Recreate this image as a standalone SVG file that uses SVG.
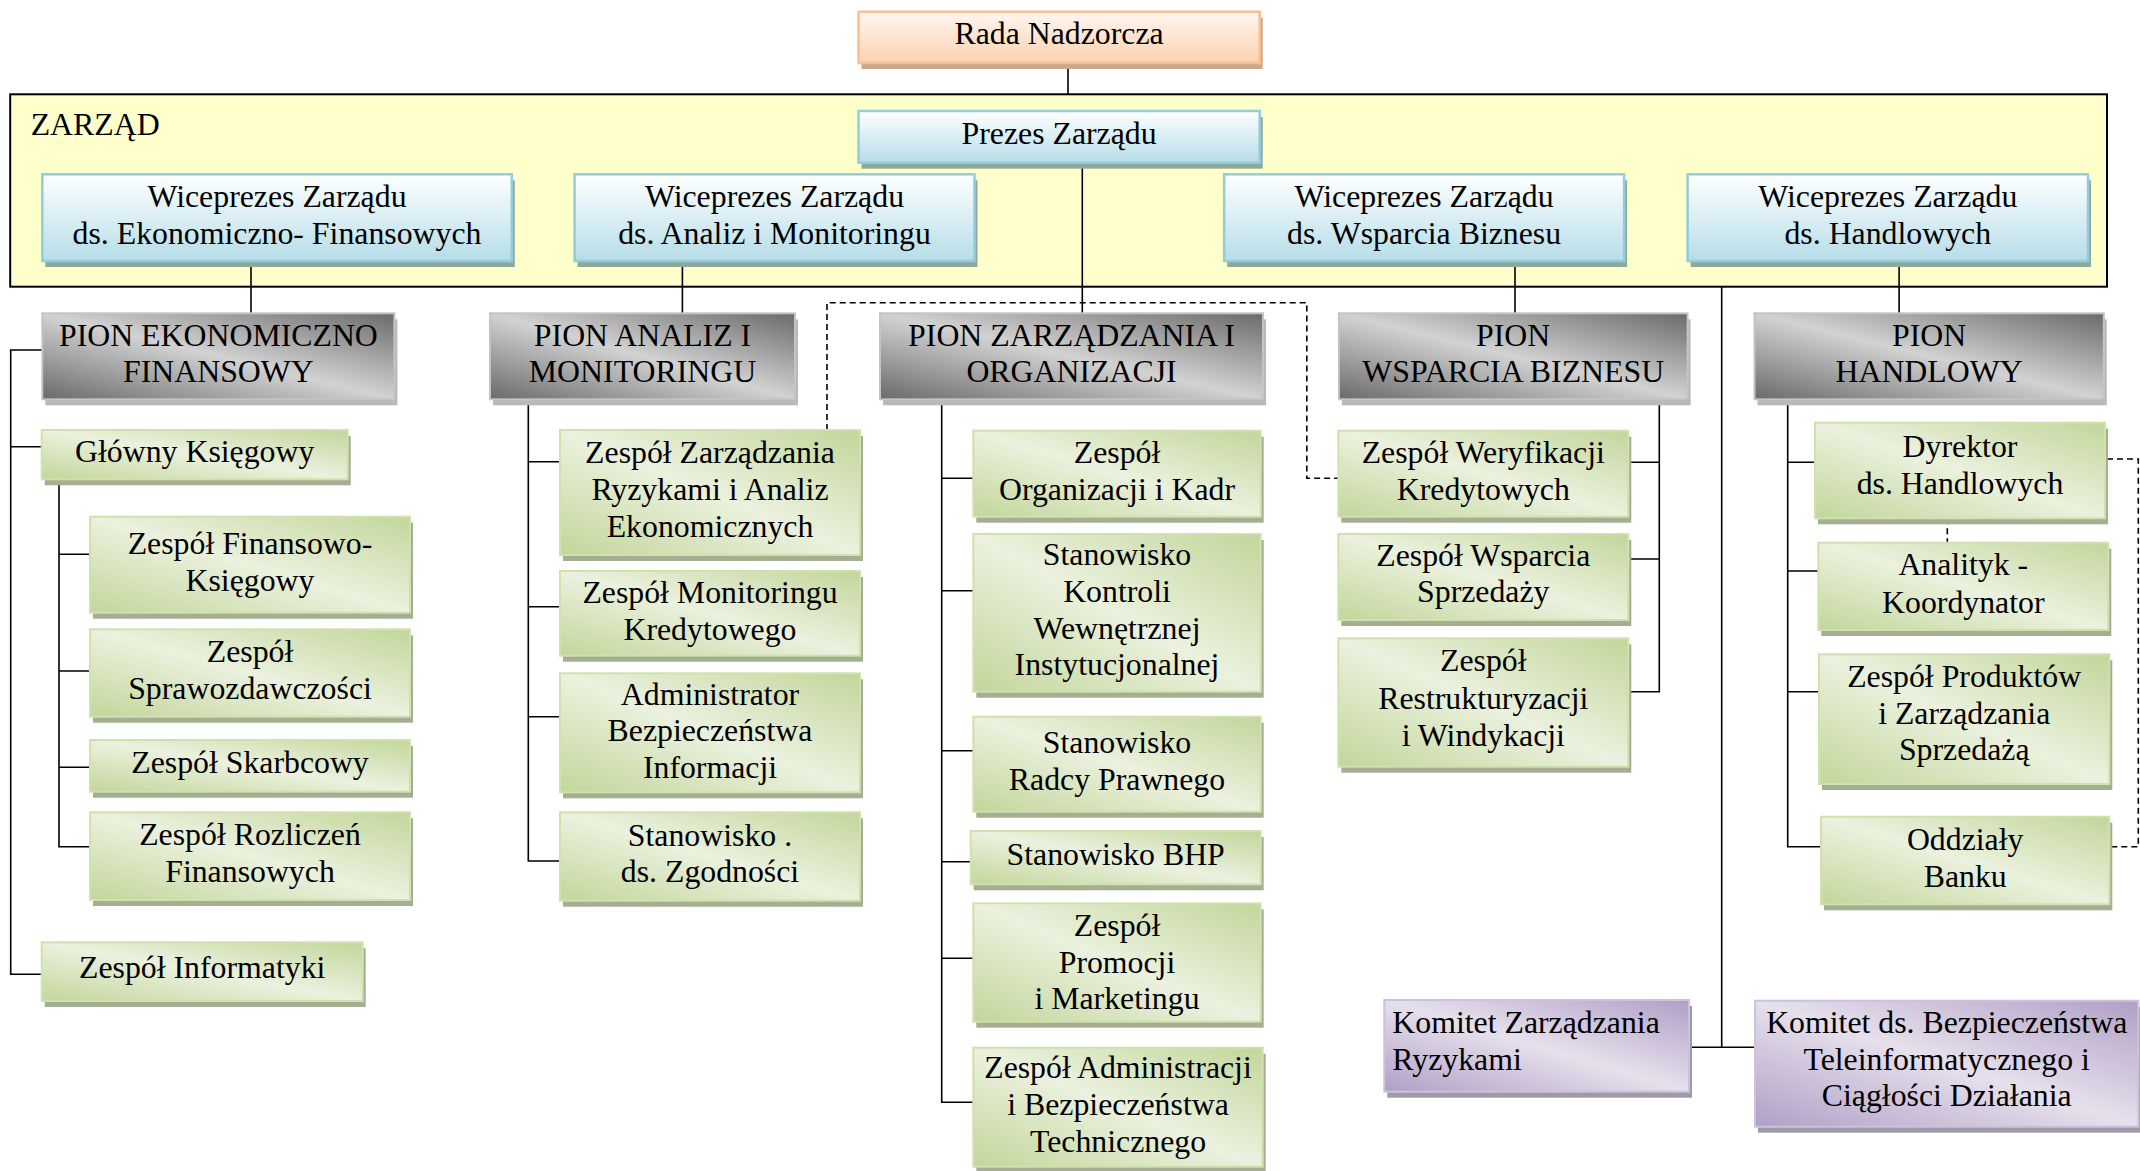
<svg xmlns="http://www.w3.org/2000/svg" width="2140" height="1171" viewBox="0 0 2140 1171">
<defs>
<linearGradient id="gGreen" x1="1" y1="0" x2="0" y2="1">
<stop offset="0" stop-color="#c2d69a"/><stop offset="0.5" stop-color="#ebf1de"/><stop offset="1" stop-color="#c2d69a"/>
</linearGradient>
<linearGradient id="gGrey" x1="1" y1="0" x2="0" y2="1">
<stop offset="0" stop-color="#6a6a6a"/><stop offset="0.5" stop-color="#d2d2d2"/><stop offset="1" stop-color="#6a6a6a"/>
</linearGradient>
<linearGradient id="gPurple" x1="1" y1="0" x2="0" y2="1">
<stop offset="0" stop-color="#b09fc6"/><stop offset="0.5" stop-color="#e6e0ec"/><stop offset="1" stop-color="#b09fc6"/>
</linearGradient>
<linearGradient id="gBlue" x1="0" y1="0" x2="0" y2="1">
<stop offset="0" stop-color="#ffffff"/><stop offset="1" stop-color="#b6dde8"/>
</linearGradient>
<linearGradient id="gOrange" x1="0" y1="0" x2="0" y2="1">
<stop offset="0" stop-color="#fff6f0"/><stop offset="1" stop-color="#fbd2b0"/>
</linearGradient>
</defs>
<style>
text{font-family:"Liberation Serif","Times New Roman",serif;font-size:31.8px;fill:#000}
.c{text-anchor:middle}
.ln{fill:none;stroke:#000;stroke-width:1.6}
.dl{fill:none;stroke:#000;stroke-width:1.6;stroke-dasharray:6 4}
.ng{fill:url(#gGreen);stroke:#d0e1ad;stroke-width:2}
.sg{fill:#a4ae93}
.np{fill:url(#gGrey);stroke:#c4c4c4;stroke-width:2}
.sp{fill:#b9b9b9}
.nv{fill:url(#gPurple);stroke:#cdc2db;stroke-width:2}
.sv{fill:#a09aa8}
.nb{fill:url(#gBlue);stroke:#92cddc;stroke-width:2.5}
.sb{fill:#8fa89e}
.no{fill:url(#gOrange);stroke:#f9bf8f;stroke-width:2.5}
.so{fill:#caa68b}
</style>

<g id="zarzad">
<rect x="10.2" y="94.3" width="2096.8" height="192.4" fill="#ffffcb" stroke="#000" stroke-width="2"/>
<text x="30.7" y="135">ZARZĄD</text>
</g>

<g id="connectors">
<path class="ln" d="M1068 63 V94.3"/>
<path class="ln" d="M1082.3 162.7 V313.3"/>
<path class="ln" d="M251 261 V313.3"/>
<path class="ln" d="M682.4 261 V313.3"/>
<path class="ln" d="M1515 261 V313.3"/>
<path class="ln" d="M1899.1 261 V313.3"/>
<path class="ln" d="M1721.7 286.7 V1047.3"/>
<path class="ln" d="M1689 1047.3 H1755"/>
<path class="ln" d="M42.3 350 H10.7 V974.3 H41.7 M10.7 446.7 H41.7"/>
<path class="ln" d="M59 479.3 V846.7 H90 M59 554.3 H90 M59 671 H90 M59 767.3 H90"/>
<path class="ln" d="M528.3 399.3 V861 H560 M528.3 461.7 H560 M528.3 606.7 H560 M528.3 716.7 H560"/>
<path class="ln" d="M941.7 399.3 V1102.3 H973.3 M941.7 478.3 H973.3 M941.7 590.7 H973.3 M941.7 750.7 H973.3 M941.7 861.7 H970.7 M941.7 958.3 H973.3"/>
<path class="ln" d="M1659.3 399.3 V691.7 H1628.3 M1659.3 462.3 H1628.3 M1659.3 559 H1628.3"/>
<path class="ln" d="M1787.7 399.3 V846.7 H1821 M1787.7 462.3 H1815 M1787.7 571 H1818.3 M1787.7 691.7 H1819"/>
<path class="dl" d="M827 430 V302.7 H1306.8 V478.3 H1338.3"/>
<path class="dl" d="M2107 459 H2138.3 V846.7 H2111"/>
<path class="dl" d="M1947.3 518.3 V542.7"/>
</g>

<g id="rada">
<rect class="so" x="861.5" y="17.7" width="401.2" height="51.3"/>
<rect class="no" x="858.5" y="11.7" width="401.2" height="51.3"/>
<text class="c" x="1059.1" y="44">Rada Nadzorcza</text>
</g>
<g id="prezes">
<rect class="sb" x="861.5" y="117" width="401.2" height="51.7"/>
<rect class="nb" x="858.5" y="111" width="401.2" height="51.7"/>
<text class="c" x="1059.1" y="144.3">Prezes Zarządu</text>
</g>
<g id="wz-ekon">
<rect class="sb" x="45.3" y="180.3" width="469.5" height="86.7"/>
<rect class="nb" x="42.3" y="174.3" width="469.5" height="86.7"/>
<text class="c" x="277" y="206.8">Wiceprezes Zarządu</text>
<text class="c" x="277" y="243.5">ds. Ekonomiczno- Finansowych</text>
</g>
<g id="wz-analiz">
<rect class="sb" x="577.6" y="180.3" width="399.9" height="86.7"/>
<rect class="nb" x="574.6" y="174.3" width="399.9" height="86.7"/>
<text class="c" x="774.5" y="206.8">Wiceprezes Zarządu</text>
<text class="c" x="774.5" y="243.5">ds. Analiz i Monitoringu</text>
</g>
<g id="wz-wsparcia">
<rect class="sb" x="1227.2" y="180.3" width="399.9" height="86.7"/>
<rect class="nb" x="1224.2" y="174.3" width="399.9" height="86.7"/>
<text class="c" x="1424.1" y="206.8">Wiceprezes Zarządu</text>
<text class="c" x="1424.1" y="243.5">ds. Wsparcia Biznesu</text>
</g>
<g id="wz-handl">
<rect class="sb" x="1690.6" y="180.3" width="400.4" height="86.7"/>
<rect class="nb" x="1687.6" y="174.3" width="400.4" height="86.7"/>
<text class="c" x="1887.8" y="206.8">Wiceprezes Zarządu</text>
<text class="c" x="1887.8" y="243.5">ds. Handlowych</text>
</g>

<g id="pion-ekon">
<rect class="sp" x="45.3" y="319.3" width="352.1" height="86"/>
<rect class="np" x="42.3" y="313.3" width="352.1" height="86"/>
<text class="c" x="218.4" y="345.5">PION EKONOMICZNO</text>
<text class="c" x="218.4" y="382.2">FINANSOWY</text>
</g>
<g id="pion-analiz">
<rect class="sp" x="493" y="319.3" width="305" height="86"/>
<rect class="np" x="490" y="313.3" width="305" height="86"/>
<text class="c" x="642.5" y="345.5">PION ANALIZ I</text>
<text class="c" x="642.5" y="382.2">MONITORINGU</text>
</g>
<g id="pion-zarz">
<rect class="sp" x="883" y="319.3" width="383" height="86"/>
<rect class="np" x="880" y="313.3" width="383" height="86"/>
<text class="c" x="1071.5" y="345.5">PION ZARZĄDZANIA I</text>
<text class="c" x="1071.5" y="382.2">ORGANIZACJI</text>
</g>
<g id="pion-wsparcia">
<rect class="sp" x="1341.9" y="319.3" width="348.7" height="86"/>
<rect class="np" x="1338.9" y="313.3" width="348.7" height="86"/>
<text class="c" x="1513.2" y="345.5">PION</text>
<text class="c" x="1513.2" y="382.2">WSPARCIA BIZNESU</text>
</g>
<g id="pion-handl">
<rect class="sp" x="1757.5" y="319.3" width="349.3" height="86"/>
<rect class="np" x="1754.5" y="313.3" width="349.3" height="86"/>
<text class="c" x="1929.1" y="345.5">PION</text>
<text class="c" x="1929.1" y="382.2">HANDLOWY</text>
</g>

<g id="glowny-ksiegowy">
<rect class="sg" x="44.7" y="436" width="306" height="49.3"/>
<rect class="ng" x="41.7" y="430" width="306" height="49.3"/>
<text class="c" x="194.7" y="462.2">Główny Księgowy</text>
</g>
<g id="z-fin-ksieg">
<rect class="sg" x="93" y="522.7" width="320" height="96"/>
<rect class="ng" x="90" y="516.7" width="320" height="96"/>
<text class="c" x="250" y="553.9">Zespół Finansowo-</text>
<text class="c" x="250" y="590.6">Księgowy</text>
</g>
<g id="z-sprawozd">
<rect class="sg" x="93" y="635.3" width="320" height="87.4"/>
<rect class="ng" x="90" y="629.3" width="320" height="87.4"/>
<text class="c" x="250" y="662.2">Zespół</text>
<text class="c" x="250" y="698.9">Sprawozdawczości</text>
</g>
<g id="z-skarbcowy">
<rect class="sg" x="93" y="746" width="320" height="51.7"/>
<rect class="ng" x="90" y="740" width="320" height="51.7"/>
<text class="c" x="250" y="773.4">Zespół Skarbcowy</text>
</g>
<g id="z-rozliczen">
<rect class="sg" x="93" y="818.3" width="320" height="87.7"/>
<rect class="ng" x="90" y="812.3" width="320" height="87.7"/>
<text class="c" x="250" y="845.3">Zespół Rozliczeń</text>
<text class="c" x="250" y="882">Finansowych</text>
</g>
<g id="z-informatyki">
<rect class="sg" x="44.7" y="948.3" width="321" height="58.7"/>
<rect class="ng" x="41.7" y="942.3" width="321" height="58.7"/>
<text class="c" x="202.2" y="978">Zespół Informatyki</text>
</g>

<g id="z-ryzyk">
<rect class="sg" x="563" y="436" width="300" height="125"/>
<rect class="ng" x="560" y="430" width="300" height="125"/>
<text class="c" x="710" y="463.3">Zespół Zarządzania</text>
<text class="c" x="710" y="500">Ryzykami i Analiz</text>
<text class="c" x="710" y="536.7">Ekonomicznych</text>
</g>
<g id="z-monitoringu">
<rect class="sg" x="563" y="577" width="300" height="84.7"/>
<rect class="ng" x="560" y="571" width="300" height="84.7"/>
<text class="c" x="710" y="603">Zespół Monitoringu</text>
<text class="c" x="710" y="639.7">Kredytowego</text>
</g>
<g id="admin-bezp">
<rect class="sg" x="563" y="679.3" width="300" height="119"/>
<rect class="ng" x="560" y="673.3" width="300" height="119"/>
<text class="c" x="710" y="704.5">Administrator</text>
<text class="c" x="710" y="741.2">Bezpieczeństwa</text>
<text class="c" x="710" y="777.9">Informacji</text>
</g>
<g id="st-zgodnosci">
<rect class="sg" x="563" y="818.3" width="300" height="88.4"/>
<rect class="ng" x="560" y="812.3" width="300" height="88.4"/>
<text class="c" x="710" y="845.5">Stanowisko .</text>
<text class="c" x="710" y="882.2">ds. Zgodności</text>
</g>

<g id="z-org-kadr">
<rect class="sg" x="976.3" y="436.7" width="287.4" height="86"/>
<rect class="ng" x="973.3" y="430.7" width="287.4" height="86"/>
<text class="c" x="1117" y="463">Zespół</text>
<text class="c" x="1117" y="499.7">Organizacji i Kadr</text>
</g>
<g id="st-kontroli">
<rect class="sg" x="976.3" y="540" width="287.4" height="157.7"/>
<rect class="ng" x="973.3" y="534" width="287.4" height="157.7"/>
<text class="c" x="1117" y="565.3">Stanowisko</text>
<text class="c" x="1117" y="602">Kontroli</text>
<text class="c" x="1117" y="638.7">Wewnętrznej</text>
<text class="c" x="1117" y="675.4">Instytucjonalnej</text>
</g>
<g id="st-radcy">
<rect class="sg" x="976.3" y="722.7" width="287.4" height="95"/>
<rect class="ng" x="973.3" y="716.7" width="287.4" height="95"/>
<text class="c" x="1117" y="753.4">Stanowisko</text>
<text class="c" x="1117" y="790.1">Radcy Prawnego</text>
</g>
<g id="st-bhp">
<rect class="sg" x="973.7" y="837" width="290" height="53.3"/>
<rect class="ng" x="970.7" y="831" width="290" height="53.3"/>
<text class="c" x="1115.7" y="864.8">Stanowisko BHP</text>
</g>
<g id="z-promocji">
<rect class="sg" x="976.3" y="909.3" width="287.4" height="118.4"/>
<rect class="ng" x="973.3" y="903.3" width="287.4" height="118.4"/>
<text class="c" x="1117" y="936">Zespół</text>
<text class="c" x="1117" y="972.7">Promocji</text>
<text class="c" x="1117" y="1009.4">i Marketingu</text>
</g>
<g id="z-administracji">
<rect class="sg" x="976.3" y="1053.7" width="289.4" height="119"/>
<rect class="ng" x="973.3" y="1047.7" width="289.4" height="119"/>
<text class="c" x="1118" y="1078.3">Zespół Administracji</text>
<text class="c" x="1118" y="1115">i Bezpieczeństwa</text>
<text class="c" x="1118" y="1151.5">Technicznego</text>
</g>

<g id="z-weryfikacji">
<rect class="sg" x="1341.3" y="436.7" width="290" height="86"/>
<rect class="ng" x="1338.3" y="430.7" width="290" height="86"/>
<text class="c" x="1483.3" y="463">Zespół Weryfikacji</text>
<text class="c" x="1483.3" y="499.7">Kredytowych</text>
</g>
<g id="z-wsparcia">
<rect class="sg" x="1341.3" y="540" width="290" height="86"/>
<rect class="ng" x="1338.3" y="534" width="290" height="86"/>
<text class="c" x="1483.3" y="565.5">Zespół Wsparcia</text>
<text class="c" x="1483.3" y="602.3">Sprzedaży</text>
</g>
<g id="z-restrukt">
<rect class="sg" x="1341.3" y="644.3" width="290" height="128.4"/>
<rect class="ng" x="1338.3" y="638.3" width="290" height="128.4"/>
<text class="c" x="1483.3" y="671">Zespół</text>
<text class="c" x="1483.3" y="708.5">Restrukturyzacji</text>
<text class="c" x="1483.3" y="745.5">i Windykacji</text>
</g>

<g id="dyrektor">
<rect class="sg" x="1818" y="428.7" width="290" height="95.6"/>
<rect class="ng" x="1815" y="422.7" width="290" height="95.6"/>
<text class="c" x="1960" y="457">Dyrektor</text>
<text class="c" x="1960" y="493.5">ds. Handlowych</text>
</g>
<g id="analityk">
<rect class="sg" x="1821.3" y="548.7" width="290" height="87.3"/>
<rect class="ng" x="1818.3" y="542.7" width="290" height="87.3"/>
<text class="c" x="1963.3" y="575.3">Analityk -</text>
<text class="c" x="1963.3" y="612.5">Koordynator</text>
</g>
<g id="z-produktow">
<rect class="sg" x="1822" y="660.3" width="290.3" height="129.7"/>
<rect class="ng" x="1819" y="654.3" width="290.3" height="129.7"/>
<text class="c" x="1964.2" y="687">Zespół Produktów</text>
<text class="c" x="1964.2" y="723.5">i Zarządzania</text>
<text class="c" x="1964.2" y="760">Sprzedażą</text>
</g>
<g id="oddzialy">
<rect class="sg" x="1824" y="822.7" width="288.3" height="87.6"/>
<rect class="ng" x="1821" y="816.7" width="288.3" height="87.6"/>
<text class="c" x="1965.2" y="850">Oddziały</text>
<text class="c" x="1965.2" y="886.7">Banku</text>
</g>

<g id="komitet-ryzyk">
<rect class="sv" x="1387.3" y="1006" width="304.7" height="91.7"/>
<rect class="nv" x="1384.3" y="1000" width="304.7" height="91.7"/>
<text x="1392.3" y="1033.3">Komitet Zarządzania</text>
<text x="1392.3" y="1070">Ryzykami</text>
</g>
<g id="komitet-bezp">
<rect class="sv" x="1758" y="1006.7" width="383.3" height="126"/>
<rect class="nv" x="1755" y="1000.7" width="383.3" height="126"/>
<text class="c" x="1946.7" y="1033.3">Komitet ds. Bezpieczeństwa</text>
<text class="c" x="1946.7" y="1070">Teleinformatycznego i</text>
<text class="c" x="1946.7" y="1106">Ciągłości Działania</text>
</g>
</svg>
